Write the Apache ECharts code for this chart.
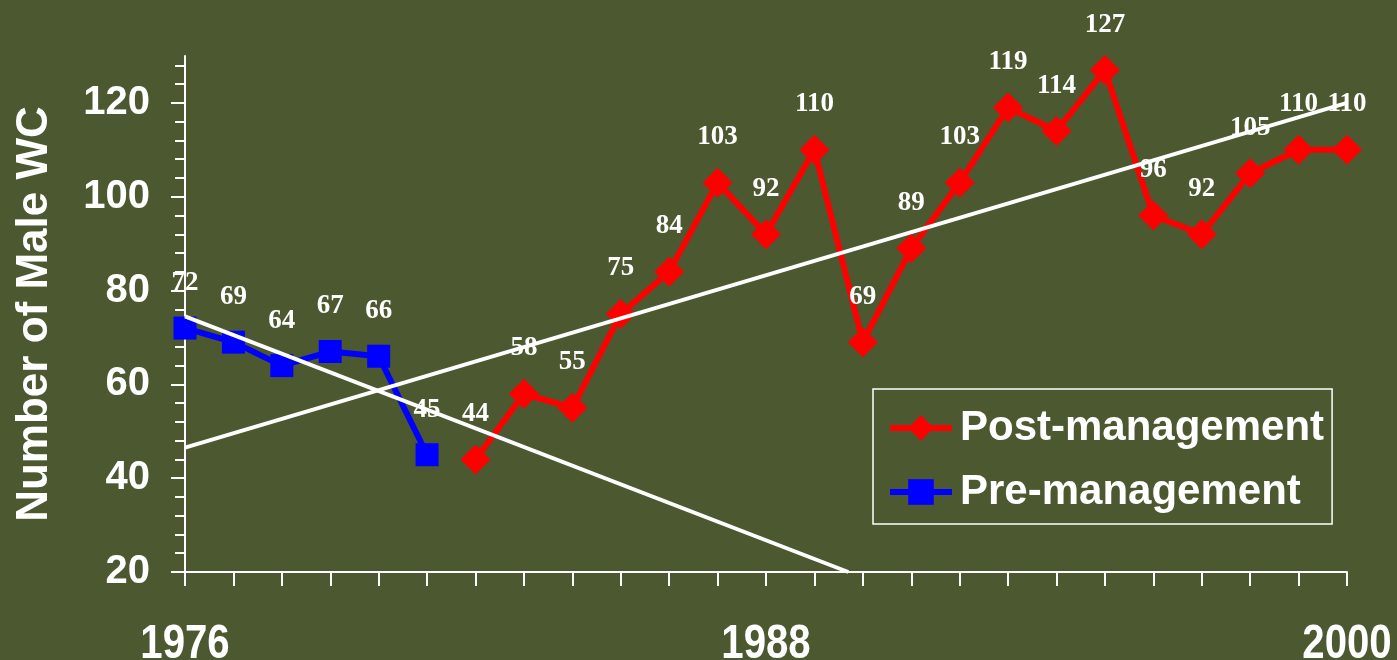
<!DOCTYPE html>
<html>
<head>
<meta charset="utf-8">
<script src="https://cdn.jsdelivr.net/npm/echarts@6/dist/echarts.min.js"></script>
<style>
html,body{margin:0;padding:0;background:#4b5830;overflow:hidden;}
#chart{width:100vw;height:100vh;}
</style>
</head>
<body>
<div id="chart"></div>
<script>
// ---- data ----
const preYears = [1976, 1977, 1978, 1979, 1980, 1981];
const preValues = [72, 69, 64, 67, 66, 45];
const postYears = [1982, 1983, 1984, 1985, 1986, 1987, 1988, 1989, 1990, 1991, 1992, 1993, 1994, 1995, 1996, 1997, 1998, 1999, 2000];
const postValues = [44, 58, 55, 75, 84, 103, 92, 110, 69, 89, 103, 119, 114, 127, 96, 92, 105, 110, 110];
// trend lines (end points)
const postTrend = [[1976, 46.5], [2000, 120]];
const preTrend = [[1976, 74.5], [1989.7, 20]];
// axis ticks / labels
const xTickLabels = [1976, 1988, 2000];
const yTickLabels = [20, 40, 60, 80, 100, 120];
const yMinorTicks = [20, 24, 28, 32, 36, 40, 44, 48, 52, 56, 60, 64, 68, 72, 76, 80, 84, 88, 92, 96, 100, 104, 108, 112, 116, 120, 124, 128];

const pair = (xs, ys) => xs.map((x, i) => [x, ys[i]]);

const chart = echarts.init(document.getElementById('chart'));
const white = '#ffffff';
const serifLabel = (dist) => ({
  show: true, position: 'top', distance: dist,
  color: white, fontFamily: '"Liberation Serif","Times New Roman",serif',
  fontWeight: 'bold', fontSize: 27
});

chart.setOption({
  backgroundColor: '#4b5830',
  animation: false,
  grid: { left: 185, right: 50, top: 56, bottom: 88, containLabel: false },
  legend: {
    orient: 'vertical', left: 873, top: 389,
    data: ['Post-management', 'Pre-management'],
    borderColor: white, borderWidth: 1.5, borderRadius: 0,
    padding: [18, 8, 11, 14],
    itemWidth: 62, itemHeight: 32, itemGap: 22,
    lineStyle: { width: 6 },
    textStyle: { color: white, fontSize: 42, fontWeight: 'bold', fontFamily: '"Liberation Sans",Arial,sans-serif', lineHeight: 42, padding: [0, 0, 0, 3] }
  },
  xAxis: {
    type: 'value', min: 1976, max: 2000, interval: 1,
    splitLine: { show: false },
    axisLine: { show: true, lineStyle: { color: white, width: 2 } },
    axisTick: { show: true, length: 14, lineStyle: { color: white, width: 2 } },
    axisLabel: { show: false }
  },
  yAxis: [
    {
      type: 'value', min: 20, max: 130, interval: 20,
      name: 'Number of Male WC', nameLocation: 'middle', nameGap: 128,
      nameTextStyle: { color: white, fontSize: 44, fontWeight: 'bold', fontFamily: '"Liberation Sans",Arial,sans-serif' },
      splitLine: { show: false },
      axisLine: { show: true, lineStyle: { color: white, width: 2 } },
      axisTick: { show: true, length: 14, customValues: yTickLabels, lineStyle: { color: white, width: 2 } },
      axisLabel: { customValues: yTickLabels, margin: 35, color: white, fontSize: 40, fontWeight: 'bold', fontFamily: '"Liberation Sans",Arial,sans-serif' }
    },
    {
      type: 'value', min: 20, max: 130, position: 'left',
      splitLine: { show: false },
      axisLine: { show: false },
      axisTick: { show: true, length: 10, customValues: yMinorTicks, lineStyle: { color: white, width: 2 } },
      axisLabel: { show: false }
    }
  ],
  series: [
    {
      name: 'Post-management', type: 'line', data: pair(postYears, postValues),
      symbol: 'diamond', symbolSize: 30,
      lineStyle: { color: '#ff0000', width: 6 },
      itemStyle: { color: '#ff0000' },
      label: serifLabel(17), z: 3
    },
    {
      name: 'Pre-management', type: 'line', data: pair(preYears, preValues),
      symbol: 'rect', symbolSize: 23,
      lineStyle: { color: '#0000ff', width: 6 },
      itemStyle: { color: '#0000ff' },
      label: serifLabel(20), z: 3
    },
    {
      name: 'Post trend', type: 'line', data: postTrend, symbol: 'none', silent: true,
      lineStyle: { color: white, width: 4 }, z: 5
    },
    {
      name: 'Pre trend', type: 'line', data: preTrend, symbol: 'none', silent: true,
      lineStyle: { color: white, width: 4 }, z: 5
    }
  ]
});

// x-axis year labels (condensed bold text), placed through the axis scale
const axisY = chart.convertToPixel({ yAxisIndex: 0 }, 20);
chart.setOption({
  graphic: xTickLabels.map(yr => ({
    type: 'text',
    x: chart.convertToPixel({ xAxisIndex: 0 }, yr),
    y: axisY + 48,
    scaleX: 0.82,
    style: {
      text: String(yr), fill: white, fontSize: 49, fontWeight: 'bold',
      fontFamily: '"Liberation Sans",Arial,sans-serif',
      align: 'center', verticalAlign: 'top'
    }
  }))
});
</script>
</body>
</html>
